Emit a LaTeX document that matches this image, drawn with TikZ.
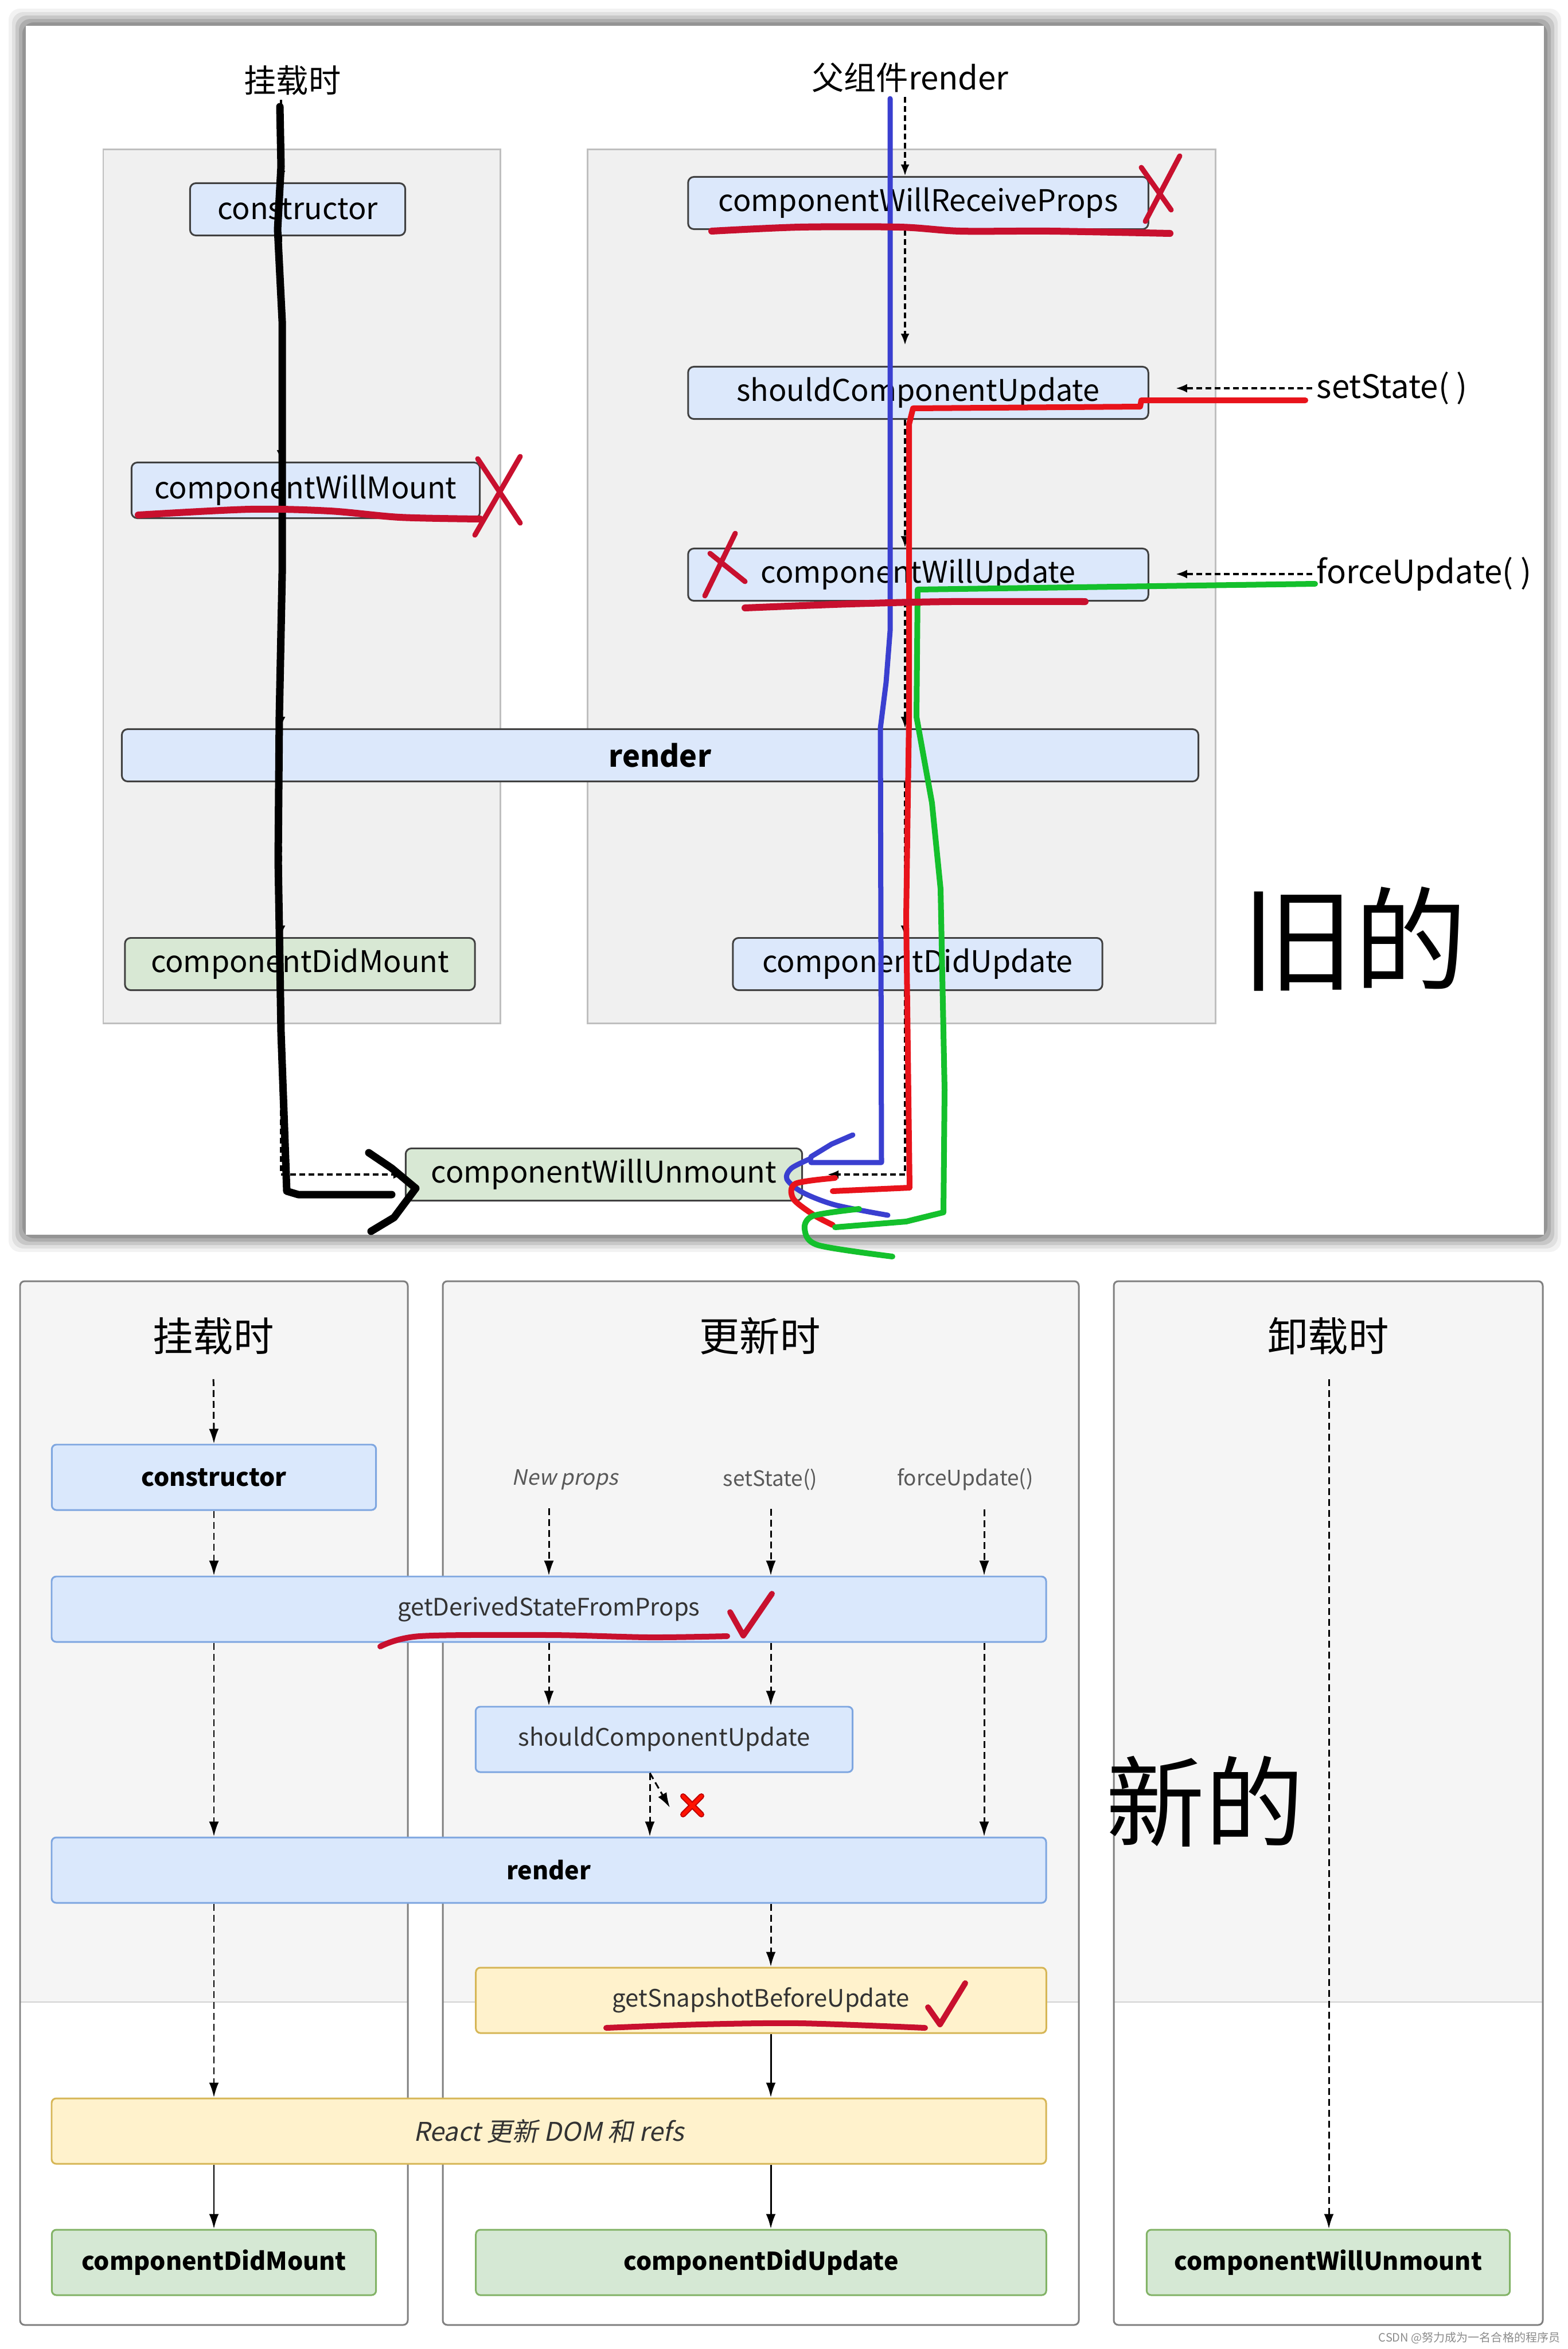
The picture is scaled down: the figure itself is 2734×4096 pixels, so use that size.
\documentclass[tikz,border=0pt]{standalone}
\usepackage{fontspec}
\setmainfont{Noto Sans CJK SC}[AutoFakeSlant=0.2]
\usetikzlibrary{arrows.meta}

\definecolor{oldblue}{HTML}{DCE8FB}
\definecolor{oldgreen}{HTML}{D8E8D4}
\definecolor{nblue}{HTML}{DAE8FC}
\definecolor{nblueline}{HTML}{7EA6E0}
\definecolor{nyel}{HTML}{FFF2CC}
\definecolor{nyelline}{HTML}{D6B656}
\definecolor{ngreen}{HTML}{D5E8D4}
\definecolor{ngreenline}{HTML}{82B366}
\definecolor{penred}{HTML}{E8131B}
\definecolor{inkred}{HTML}{C8102E}
\definecolor{penblue}{HTML}{3A3FD0}
\definecolor{pengreen}{HTML}{14C02C}

\tikzset{
  oldbox/.style={draw=black!75, line width=0.85pt, rounded corners=0.1cm, fill=oldblue,
    inner sep=0pt, minimum height=0.91cm, font=\fontsize{14.8}{18}\selectfont},
  oldgreenbox/.style={oldbox, fill=oldgreen},
  ohead/.style={font=\fontsize{16}{19}\selectfont, inner sep=2pt},
  phase/.style={draw=black!25, line width=0.85pt, fill=black!6},
  odash/.style={-{Latex[length=0.2cm,width=0.15cm]}, line width=1.2pt, dash pattern=on 0.1cm off 0.06cm},
  nbox/.style={rounded corners=0.08cm, line width=0.85pt, inner sep=0pt, minimum height=1.14cm,
    text=black!80, font=\fontsize{11.9}{14}\selectfont},
  nbluebox/.style={nbox, draw=nblueline, fill=nblue},
  nyelbox/.style={nbox, draw=nyelline, fill=nyel},
  ngreenbox/.style={nbox, draw=ngreenline, fill=ngreen},
  nbold/.style={text=black, font=\fontsize{12.2}{15}\selectfont\bfseries},
  ntitle/.style={font=\fontsize{20}{24}\selectfont},
  nsmall/.style={text=black!65, font=\fontsize{10.5}{13}\selectfont},
  ndash/.style={-{Latex[length=0.26cm,width=0.17cm]}, line width=0.85pt, dash pattern=on 0.12cm off 0.07cm},
  nsolid/.style={-{Latex[length=0.26cm,width=0.17cm]}, line width=0.85pt},
  pen/.style={line cap=round, line join=round},
  blackpen/.style={pen, black, line width=0.13cm},
  bluepen/.style={pen, penblue, line width=0.09cm},
  redpen/.style={pen, penred, line width=0.1cm},
  greenpen/.style={pen, pengreen, line width=0.1cm},
  inkpen/.style={pen, inkred, line width=0.12cm},
}

\begin{document}
\begin{tikzpicture}[x=0.01cm, y=-0.01cm]
\useasboundingbox (0,0) rectangle (2734,4096);
\fill[white] (0,0) rectangle (2734,4096);

% old lifecycle, screenshot frame
\foreach \d/\c in {30/5,24/12,18/22,12/32,6/42}
  \fill[black!\c, rounded corners=0.2cm] ({45-\d},{45-\d}) rectangle ({2692+\d},{2153+\d});
\fill[white] (45,45) rectangle (2692,2153);

\draw[phase] (180,260) rectangle (872,1784);
\draw[phase] (1024,260) rectangle (2119,1784);

\node (ohead) at (510,140) [ohead] {挂载时};
\node (phead) at (1587,135) [ohead] {父组件render};
\node (octor) at (519,365) [oldbox, minimum width=3.75cm] {constructor};
\node (ocwm) at (533,855) [oldbox, minimum width=6.07cm, minimum height=0.97cm] {componentWillMount};
\node (ocwrp) at (1601,354) [oldbox, minimum width=8.02cm] {componentWillReceiveProps};
\node (oscu) at (1601,685) [oldbox, minimum width=8.02cm] {shouldComponentUpdate};
\node (ocwu) at (1601,1002) [oldbox, minimum width=8.02cm] {componentWillUpdate};
\node (orender) at (1151,1317) [oldbox, minimum width=18.76cm, font=\fontsize{14.8}{18}\selectfont\bfseries] {render};
\node (ocdm) at (523,1681) [oldgreenbox, minimum width=6.10cm] {componentDidMount};
\node (ocdu) at (1600,1681) [oldbox, minimum width=6.44cm] {componentDidUpdate};
\node (ocwun) at (1053,2048) [oldgreenbox, minimum width=6.91cm] {componentWillUnmount};
\node (osst) at (2288,677) [anchor=west, ohead] {setState( )};
\node (ofu) at (2288,1001) [anchor=west, ohead] {forceUpdate( )};
\node (oldtag) at (2361,1637) [font=\fontsize{56}{60}\selectfont] {旧的};

\coordinate (mx) at (490,0);
\coordinate (ux) at (1578,0);
\draw[odash] (ohead.south -| mx) -- (octor.north -| mx);
\draw[odash] (octor.south -| mx) -- (ocwm.north -| mx);
\draw[odash] (ocwm.south -| mx) -- (orender.north -| mx);
\draw[odash] (orender.south -| mx) -- (ocdm.north -| mx);
\draw[odash] (ocdm.south -| mx) |- (ocwun.west);
\draw[odash] (phead.south -| ux) -- (ocwrp.north -| ux);
\draw[odash, shorten >=0.36cm] (ocwrp.south -| ux) -- (oscu.north -| ux);
\draw[odash] (oscu.south -| ux) -- (ocwu.north -| ux);
\draw[odash] (ocwu.south -| ux) -- (orender.north -| ux);
\draw[odash] (orender.south -| ux) -- (ocdu.north -| ux);
\draw[odash, shorten >=0.42cm] (ocdu.south -| ux) |- (ocwun.east);
\draw[odash, shorten >=0.46cm] (osst.west) -- (osst.west -| oscu.east);
\draw[odash, shorten >=0.46cm] (ofu.west) -- (ofu.west -| ocwu.east);

% hand drawn marks
\draw[blackpen] (488,186) -- (490,290) -- (484,400) -- (492,560) -- (492,1000) -- (487,1250)
  -- (485,1500) -- (490,1800) -- (500,2077) -- (520,2083) -- (683,2083);
\draw[blackpen] (643,2010) -- (683,2037) -- (725,2072) -- (687,2123) -- (647,2147);
\draw[bluepen] (1552,172) -- (1552,1100) -- (1545,1190) -- (1535,1270) -- (1537,2027) -- (1414,2027);
\draw[bluepen] (1414,2017) -- (1450,1995) -- (1487,1979);
\draw[bluepen] plot[smooth] coordinates {(1414,2020) (1380,2037) (1372,2056) (1399,2079) (1456,2101) (1548,2119)};
\draw[redpen] (2276,698) -- (1990,698) -- (1988,709) -- (1592,712) -- (1585,740) -- (1585,1250)
  -- (1580,1600) -- (1586,2071) -- (1452,2077);
\draw[redpen] plot[smooth] coordinates {(1456,2054) (1387,2064) (1383,2090) (1418,2118) (1452,2136)};
\draw[greenpen] (2293,1018) -- (1600,1028) -- (1598,1250) -- (1625,1400) -- (1640,1550)
  -- (1647,1900) -- (1645,2114) -- (1580,2130) -- (1456,2140);
\draw[greenpen] plot[smooth] coordinates {(1498,2108) (1418,2120) (1403,2143) (1426,2171) (1556,2191)};
\draw[inkpen] plot[smooth] coordinates {(1241,403) (1395,396) (1569,396) (1674,403) (1831,403) (2040,407)};
\draw[inkpen] plot[smooth] coordinates {(241,898) (436,888) (575,891) (697,902) (837,905)};
\draw[inkpen] plot[smooth] coordinates {(1299,1060) (1482,1053) (1657,1049) (1892,1049)};
\draw[inkpen, line width=0.09cm] (1997,386) -- (2057,272) (1990,292) -- (2042,366);
\draw[inkpen, line width=0.09cm] (828,933) -- (907,796) (833,800) -- (907,912);
\draw[inkpen, line width=0.09cm] (1229,1039) -- (1282,930) (1238,965) -- (1299,1014);

% new lifecycle
\foreach \xa/\xb in {35/711,772/1881,1942/2690} {
  \fill[black!4] (\xa,2234) rectangle (\xb,3491);
  \draw[black!18, line width=0.6pt] (\xa,3491) -- (\xb,3491);
  \draw[black!50, line width=0.85pt, rounded corners=0.08cm] (\xa,2234) rectangle (\xb,4054);
}

\node (nmount) at (372,2330) [ntitle] {挂载时};
\node (nupd) at (1325,2330) [ntitle] {更新时};
\node (nunm) at (2316,2330) [ntitle] {卸载时};
\node (np) at (985,2580) [nsmall, font=\fontsize{10.5}{13}\selectfont\itshape] {New props};
\node (nsst) at (1343,2580) [nsmall] {setState()};
\node (nfu) at (1683,2580) [nsmall] {forceUpdate()};

\node (nctor) at (373,2576) [nbluebox, nbold, minimum width=5.65cm] {constructor};
\node (gdsfp) at (957,2806) [nbluebox, minimum width=17.33cm] {getDerivedStateFromProps};
\node (nscu) at (1158,3033) [nbluebox, minimum width=6.57cm] {shouldComponentUpdate};
\node (nrender) at (957,3261) [nbluebox, nbold, minimum width=17.33cm] {render};
\node (gsbu) at (1327,3488) [nyelbox, minimum width=9.94cm] {getSnapshotBeforeUpdate};
\node (rdom) at (957,3716) [nyelbox, minimum width=17.33cm, font=\fontsize{12.8}{15}\selectfont\itshape] {React 更新 DOM 和 refs};
\node (ncdm) at (373,3945) [ngreenbox, nbold, minimum width=5.65cm] {componentDidMount};
\node (ncdu) at (1327,3945) [ngreenbox, nbold, minimum width=9.94cm] {componentDidUpdate};
\node (ncwun) at (2316,3945) [ngreenbox, nbold, minimum width=6.33cm] {componentWillUnmount};
\node (newtag) at (2101,3141) [font=\fontsize{49}{54}\selectfont] {新的};
\node (csdn) at (2562,4077) [text=black!45, font=\fontsize{5.7}{7}\selectfont] {CSDN @努力成为一名合格的程序员};

\coordinate (ca) at (373,0);
\coordinate (cb) at (957,0);
\coordinate (cc) at (1344,0);
\coordinate (cd) at (1716,0);
\coordinate (ce) at (1133,0);
\coordinate (cf) at (2317,0);
\coordinate (nox) at (1168,3152);

\draw[ndash, shorten <=0.3cm] (nmount.south) -- (nctor.north);
\draw[ndash] (nctor.south) -- (gdsfp.north -| ca);
\draw[ndash, shorten <=0.2cm] (np.south -| cb) -- (gdsfp.north -| cb);
\draw[ndash, shorten <=0.2cm] (nsst.south -| cc) -- (gdsfp.north -| cc);
\draw[ndash, shorten <=0.2cm] (nfu.south -| cd) -- (gdsfp.north -| cd);
\draw[ndash] (gdsfp.south -| cb) -- (nscu.north -| cb);
\draw[ndash] (gdsfp.south -| cc) -- (nscu.north -| cc);
\draw[ndash] (gdsfp.south -| ca) -- (nrender.north -| ca);
\draw[ndash] (gdsfp.south -| cd) -- (nrender.north -| cd);
\draw[ndash] (nscu.south -| ce) -- (nrender.north -| ce);
\draw[ndash] (nscu.south -| ce) -- (nox);
\draw[ndash] (nrender.south -| ca) -- (rdom.north -| ca);
\draw[ndash] (nrender.south -| cc) -- (gsbu.north -| cc);
\draw[nsolid] (gsbu.south -| cc) -- (rdom.north -| cc);
\draw[nsolid] (rdom.south -| ca) -- (ncdm.north);
\draw[nsolid] (rdom.south -| cc) -- (ncdu.north -| cc);
\draw[ndash, shorten <=0.3cm] (nunm.south -| cf) -- (ncwun.north -| cf);

\draw[pen, red!75!black, line width=0.1cm] (1191,3132) -- (1223,3164) (1191,3164) -- (1223,3132);
\draw[pen, red!85!orange, line width=0.06cm] (1191,3132) -- (1223,3164) (1191,3164) -- (1223,3132);

\draw[inkpen, line width=0.1cm] plot[smooth] coordinates {(663,2871) (732,2853) (959,2851) (1133,2855) (1268,2853)};
\draw[inkpen, line width=0.1cm] (1273,2811) -- (1296,2852) -- (1346,2779);
\draw[inkpen, line width=0.1cm] plot[smooth] coordinates {(1057,3536) (1221,3530) (1395,3528) (1613,3536)};
\draw[inkpen, line width=0.1cm] (1618,3500) -- (1639,3530) -- (1683,3458);
\end{tikzpicture}
\end{document}
